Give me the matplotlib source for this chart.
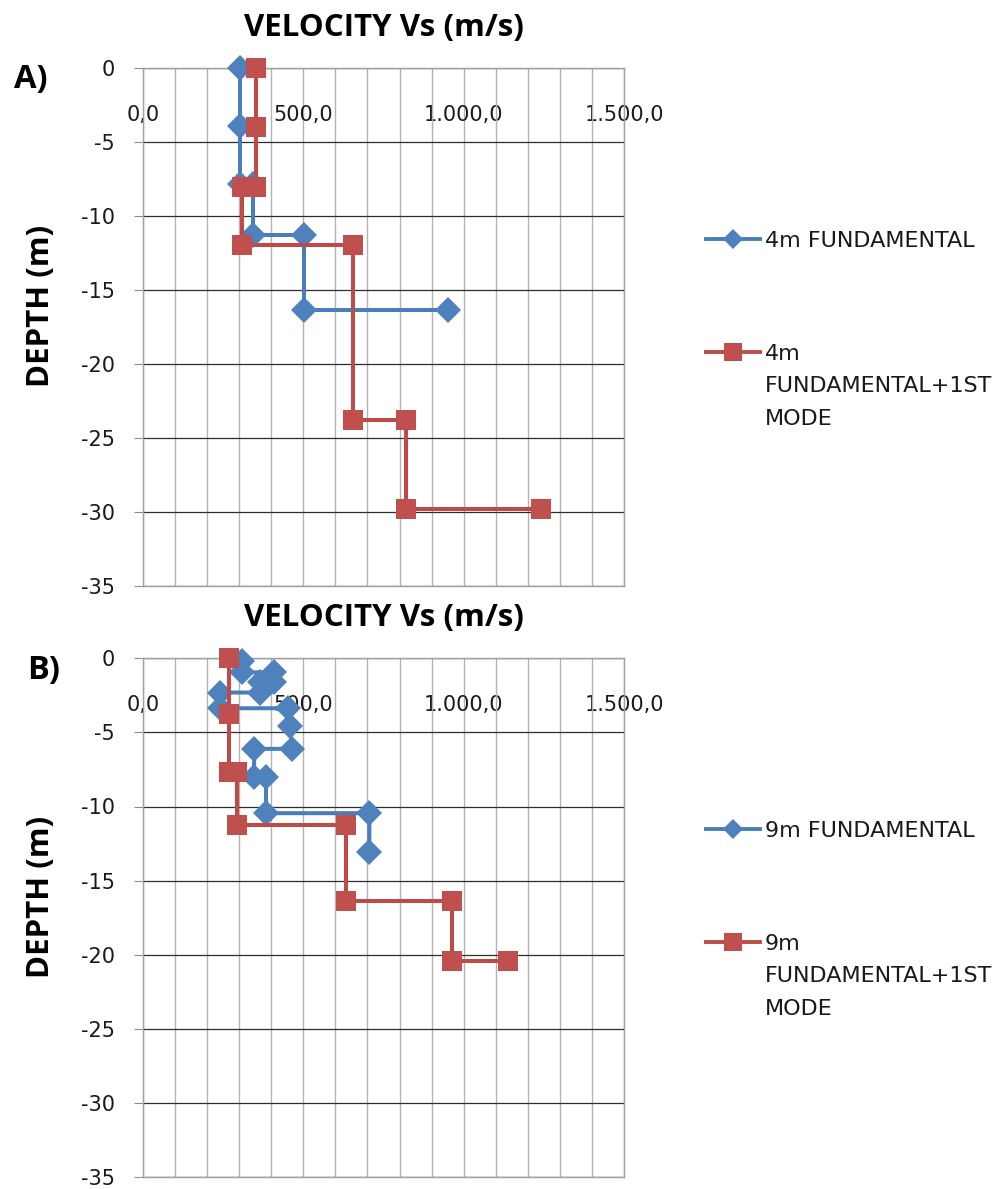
import matplotlib
matplotlib.use("Agg")
import matplotlib.pyplot as plt
from matplotlib.lines import Line2D
from matplotlib.ticker import FixedLocator, MultipleLocator

# ---------------- data ----------------
a_fund_vs = [303, 303, 303, 345, 345, 502, 502, 952]
a_fund_depth = [0, -3.9, -7.8, -7.8, -11.3, -11.3, -16.35, -16.35]
a_mode_vs = [352, 352, 352, 310, 310, 655, 655, 819, 819, 1239]
a_mode_depth = [0, -4.0, -8.0, -8.0, -11.95, -11.95, -23.8, -23.8, -29.8, -29.8]

b_fund_vs = [310, 310, 409, 409, 366, 366, 241, 241, 452, 460, 464, 347, 347, 384, 384, 706, 706]
b_fund_depth = [-0.15, -0.95, -0.95, -1.57, -1.57, -2.31, -2.31, -3.37, -3.37, -4.56, -6.11,
                -6.11, -8.04, -8.04, -10.45, -10.45, -13.08]
b_mode_vs = [269, 269, 269, 295, 295, 633, 633, 963, 963, 1137]
b_mode_depth = [0, -3.75, -7.7, -7.7, -11.24, -11.24, -16.35, -16.35, -20.4, -20.4]

x_ticks = [0, 500, 1000, 1500]
x_tick_labels = ["0,0", "500,0", "1.000,0", "1.500,0"]
y_ticks = [0, -5, -10, -15, -20, -25, -30, -35]
y_tick_labels = ["0", "-5", "-10", "-15", "-20", "-25", "-30", "-35"]

panel_letters = ["A)", "B)"]
x_title = "VELOCITY Vs (m/s)"
y_title = "DEPTH (m)"
legend_a = ["4m FUNDAMENTAL", ["4m", "FUNDAMENTAL+1ST", "MODE"]]
legend_b = ["9m FUNDAMENTAL", ["9m", "FUNDAMENTAL+1ST", "MODE"]]

# ---------------- style ----------------
BLUE = "#4A7EBB"
BLUE_M = "#4F81BD"
RED = "#BE4B48"
RED_M = "#C0504D"
TICK_FONT = "DejaVu Sans"
BOLD_FONT = "Open Sans"

W, H = 1000, 1189
fig = plt.figure(figsize=(W / 100, H / 100), dpi=100)
fig.patch.set_facecolor("white")


def fx(px):
    return px / W


def fy(py):
    return 1 - py / H


def make_axes(top_px, bottom_px):
    left, right = 142.7, 624.3
    ax = fig.add_axes([fx(left), fy(bottom_px), (right - left) / W, (bottom_px - top_px) / H])
    ax.set_xlim(0, 1500)
    ax.set_ylim(-35, 0)
    ax.xaxis.set_major_locator(FixedLocator(x_ticks))
    ax.set_xticklabels(x_tick_labels)
    ax.xaxis.set_minor_locator(MultipleLocator(100))
    ax.xaxis.tick_top()
    ax.tick_params(axis="x", which="both", length=0, pad=-41, labelsize=15,
                   labelcolor="#1a1a1a")
    for lbl in ax.get_xticklabels():
        lbl.set_fontfamily(TICK_FONT)
    ax.set_yticks(y_ticks)
    ax.set_yticklabels(y_tick_labels)
    ax.tick_params(axis="y", which="major", direction="out", length=6.8, width=0.8,
                   color="#8c8c8c", pad=13, labelsize=15, labelcolor="#1a1a1a")
    for lbl in ax.get_yticklabels():
        lbl.set_fontfamily(TICK_FONT)
    ax.grid(axis="x", which="both", color="#b3b3b3", lw=1.0)
    ax.grid(axis="y", which="major", color="#2e2e2e", lw=0.9)
    for s in ax.spines.values():
        s.set_color("#a0a0a0")
        s.set_linewidth(1.0)
    ax.set_axisbelow(True)
    return ax


panels = [
    (68.3, 585.7, a_fund_vs, a_fund_depth, a_mode_vs, a_mode_depth, legend_a, (31, 88)),
    (658.3, 1177.0, b_fund_vs, b_fund_depth, b_mode_vs, b_mode_depth, legend_b, (44, 679)),
]

for i, (top, bot, fv, fd, mv, md, leg, letter_pos) in enumerate(panels):
    ax = make_axes(top, bot)
    ax.plot(fv, fd, color=BLUE, lw=2.9, marker="D", ms=13, mfc=BLUE_M, mec=BLUE_M,
            mew=0, clip_on=False, zorder=3)
    ax.plot(mv, md, color=RED, lw=2.9, marker="s", ms=15, mfc=RED_M, mec=RED_M,
            mew=0, clip_on=False, zorder=4)

    # axis titles
    hpx = bot - top
    ax.set_title(x_title, y=1 + 23.5 / hpx, va="baseline", fontsize=22.5,
                 fontweight="bold", family=BOLD_FONT, color="black")
    ax.set_ylabel(y_title, fontsize=22.5, fontweight="bold", family=BOLD_FONT,
                  va="center", color="black")
    ycen = top + 0.46 * hpx
    ax.yaxis.set_label_coords((41 - 142.7) / 481.6, (bot - ycen) / hpx)

    # panel letter
    fig.text(fx(letter_pos[0]), fy(letter_pos[1]), panel_letters[i], ha="center",
             va="baseline", fontsize=23.5, fontweight="bold", family=BOLD_FONT)

    # legend (drawn manually so the handle sits on the first text line)
    y1 = top + 171.0
    y2 = top + 283.4
    for (yc, col, mcol, mk, ms) in [(y1, BLUE, BLUE_M, "D", 10), (y2, RED, RED_M, "s", 13)]:
        fig.add_artist(Line2D([fx(706), fx(733), fx(760)], [fy(yc)] * 3,
                              transform=fig.transFigure, color=col, lw=2.8,
                              marker=mk, ms=ms, mfc=mcol, mec=mcol, mew=0,
                              markevery=[1]))
    fig.text(fx(765), fy(y1 + 8.1), leg[0], va="baseline", ha="left", fontsize=16,
             family=TICK_FONT, color="#1a1a1a")
    for k, line in enumerate(leg[1]):
        fig.text(fx(765), fy(y2 + 8.1 + 32.5 * k), line, va="baseline", ha="left",
                 fontsize=16, family=TICK_FONT, color="#1a1a1a")

fig.savefig("out.png", dpi=100, facecolor="white")
